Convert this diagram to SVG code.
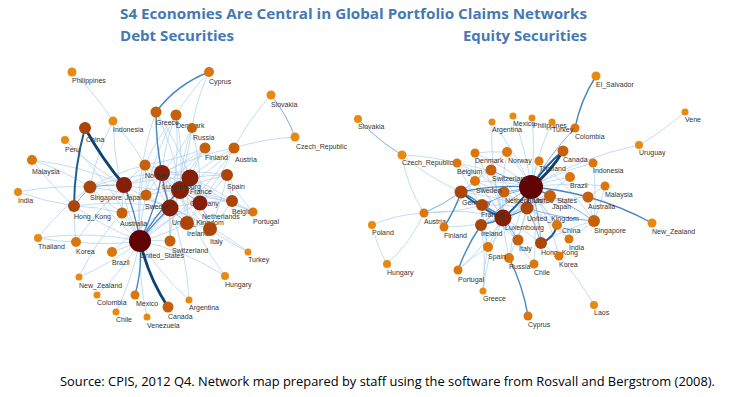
<svg xmlns="http://www.w3.org/2000/svg" width="738" height="397" viewBox="0 0 738 397">
<style>
.t{font-family:"Open Sans","Liberation Sans",sans-serif;font-weight:700;fill:#4479b4}
.src{font-family:"Open Sans","Liberation Sans",sans-serif;font-size:12px;fill:#000}
.l{font-family:"Liberation Sans",Arial,sans-serif;font-size:7px;fill:#333}
#edges path{fill:none}
.e1{stroke:#a9cdef;stroke-width:.7}
.e2{stroke:#7cb0e0;stroke-width:1}
.e3{stroke:#4a86c2;stroke-width:1.4}
.e4{stroke:#1f5d96;stroke-width:2}
.e5{stroke:#0d4273;stroke-width:2.8}
.c1{fill:#e98a10}.c2{fill:#dc760b}.c3{fill:#c6600a}.c4{fill:#ac4608}.c5{fill:#84200a}.c6{fill:#610303}
</style>
<rect width="738" height="397" fill="#fff"/>
<text class="t" x="120" y="19" font-size="14.5" textLength="467" lengthAdjust="spacingAndGlyphs">S4 Economies Are Central in Global Portfolio Claims Networks</text>
<text class="t" x="120" y="41" font-size="14.5" textLength="114" lengthAdjust="spacingAndGlyphs">Debt Securities</text>
<text class="t" x="463" y="41" font-size="14.5" textLength="124" lengthAdjust="spacingAndGlyphs">Equity Securities</text>
<g id="edges">
<g class="e1">
<path d="M72 72A250 250 0 0 1 113 121"/><path d="M113 121A250 250 0 0 1 145 165"/><path d="M113 121A300 300 0 0 0 140 241"/><path d="M113 121A250 250 0 0 0 90 187"/><path d="M65 140A300 300 0 0 1 140 241"/><path d="M65 140A250 250 0 0 0 124 185"/><path d="M32 160A250 250 0 0 1 90 187"/><path d="M32 160A300 300 0 0 0 74 206"/><path d="M32 160A300 300 0 0 1 124 185"/><path d="M18 192A300 300 0 0 1 90 187"/><path d="M18 192A300 300 0 0 0 74 206"/><path d="M38 238A250 250 0 0 1 90 187"/><path d="M38 238A250 250 0 0 0 76 242"/><path d="M38 238A300 300 0 0 1 140 241"/><path d="M76 242A250 250 0 0 0 140 241"/><path d="M76 242A250 250 0 0 1 74 206"/><path d="M76 242A300 300 0 0 1 124 185"/><path d="M112 252A250 250 0 0 0 140 241"/><path d="M112 252A300 300 0 0 1 170 208"/><path d="M79 277A250 250 0 0 0 140 241"/><path d="M79 277A250 250 0 0 1 122 213"/><path d="M97 295A250 250 0 0 0 140 241"/><path d="M116 312A300 300 0 0 0 140 241"/><path d="M147 317A300 300 0 0 1 140 241"/><path d="M189 300A250 250 0 0 1 140 241"/><path d="M189 300A300 300 0 0 0 170 208"/><path d="M225 276A300 300 0 0 1 180 190"/><path d="M225 276A250 250 0 0 0 140 241"/><path d="M248 252A250 250 0 0 1 210 229"/><path d="M248 252A300 300 0 0 0 170 208"/><path d="M253 212A200 200 0 0 1 227 175"/><path d="M253 212A200 200 0 0 0 232 201"/><path d="M253 212A250 250 0 0 1 190 178"/><path d="M253 212A300 300 0 0 0 180 190"/><path d="M295 137A250 250 0 0 0 234 148"/><path d="M271 95A250 250 0 0 0 234 148"/><path d="M234 148A250 250 0 0 1 180 190"/><path d="M234 148A250 250 0 0 0 190 178"/><path d="M234 148A250 250 0 0 0 162 173"/><path d="M234 148A250 250 0 0 1 200 203"/><path d="M234 148A300 300 0 0 1 140 241"/><path d="M205 148A200 200 0 0 1 146 195"/><path d="M205 148A200 200 0 0 0 180 190"/><path d="M205 148A200 200 0 0 1 162 173"/><path d="M205 148A200 200 0 0 0 190 178"/><path d="M205 148A250 250 0 0 1 145 165"/><path d="M192 128A200 200 0 0 1 162 173"/><path d="M192 128A200 200 0 0 0 180 190"/><path d="M192 128A250 250 0 0 1 200 203"/><path d="M192 128A300 300 0 0 1 170 208"/><path d="M176 115A200 200 0 0 0 162 173"/><path d="M176 115A250 250 0 0 0 146 195"/><path d="M176 115A200 200 0 0 0 145 165"/><path d="M176 115A250 250 0 0 1 180 190"/><path d="M176 115A300 300 0 0 1 170 208"/><path d="M176 115A250 250 0 0 1 209 72"/><path d="M209 72A200 200 0 0 0 192 128"/><path d="M156 112A250 250 0 0 1 190 178"/><path d="M156 112A250 250 0 0 1 180 190"/><path d="M156 112A300 300 0 0 0 170 208"/><path d="M156 112A300 300 0 0 0 140 241"/><path d="M145 165A200 200 0 0 1 146 195"/><path d="M145 165A250 250 0 0 0 180 190"/><path d="M145 165A250 250 0 0 1 190 178"/><path d="M145 165A250 250 0 0 0 170 208"/><path d="M145 165A300 300 0 0 0 140 241"/><path d="M145 165A200 200 0 0 0 124 185"/><path d="M145 165A250 250 0 0 0 90 187"/><path d="M90 187A250 250 0 0 0 140 241"/><path d="M90 187A300 300 0 0 1 170 208"/><path d="M90 187A300 300 0 0 1 162 173"/><path d="M90 187A200 200 0 0 0 122 213"/><path d="M74 206A300 300 0 0 0 140 241"/><path d="M74 206A300 300 0 0 1 170 208"/><path d="M74 206A200 200 0 0 1 122 213"/><path d="M122 213A200 200 0 0 0 140 241"/><path d="M122 213A250 250 0 0 1 170 208"/><path d="M122 213A200 200 0 0 1 124 185"/><path d="M124 185A250 250 0 0 1 162 173"/><path d="M124 185A250 250 0 0 0 180 190"/><path d="M124 185A250 250 0 0 0 170 208"/><path d="M124 185A300 300 0 0 1 190 178"/><path d="M146 195A200 200 0 0 1 180 190"/><path d="M146 195A200 200 0 0 0 170 208"/><path d="M146 195A200 200 0 0 0 140 241"/><path d="M146 195A200 200 0 0 1 162 173"/><path d="M162 173A150 150 0 0 1 190 178"/><path d="M162 173A200 200 0 0 0 200 203"/><path d="M162 173A250 250 0 0 1 227 175"/><path d="M162 173A250 250 0 0 0 210 229"/><path d="M162 173A250 250 0 0 0 187 223"/><path d="M162 173A250 250 0 0 0 232 201"/><path d="M190 178A200 200 0 0 0 200 203"/><path d="M190 178A200 200 0 0 1 227 175"/><path d="M190 178A250 250 0 0 1 210 229"/><path d="M190 178A200 200 0 0 1 232 201"/><path d="M190 178A250 250 0 0 0 187 223"/><path d="M180 190A200 200 0 0 1 227 175"/><path d="M180 190A200 200 0 0 1 210 229"/><path d="M180 190A200 200 0 0 1 187 223"/><path d="M180 190A200 200 0 0 0 232 201"/><path d="M200 203A200 200 0 0 1 232 201"/><path d="M200 203A200 200 0 0 0 227 175"/><path d="M200 203A200 200 0 0 1 210 229"/><path d="M200 203A200 200 0 0 0 170 208"/><path d="M200 203A200 200 0 0 1 187 223"/><path d="M170 208A200 200 0 0 1 210 229"/><path d="M170 208A200 200 0 0 0 170 241"/><path d="M140 241A200 200 0 0 1 170 241"/><path d="M140 241A200 200 0 0 0 187 223"/><path d="M140 241A250 250 0 0 0 190 178"/><path d="M140 241A250 250 0 0 1 200 203"/><path d="M170 241A200 200 0 0 1 180 190"/><path d="M170 241A200 200 0 0 0 162 173"/><path d="M227 175A200 200 0 0 1 232 201"/><path d="M227 175A250 250 0 0 1 210 229"/><path d="M187 223A150 150 0 0 1 210 229"/><path d="M232 201A200 200 0 0 1 210 229"/>
<path d="M402 155A250 250 0 0 1 457 163"/><path d="M402 155A150 150 0 0 0 424 213"/><path d="M402 155A250 250 0 0 0 461 192"/><path d="M424 213A150 150 0 0 0 372 225"/><path d="M424 213A150 150 0 0 1 387 264"/><path d="M372 225A150 150 0 0 0 387 264"/><path d="M424 213A200 200 0 0 1 503 218"/><path d="M424 213A200 200 0 0 0 482 205"/><path d="M444 227A200 200 0 0 1 475 181"/><path d="M444 227A200 200 0 0 0 503 218"/><path d="M458 270A200 200 0 0 1 488 247"/><path d="M458 270A250 250 0 0 0 503 218"/><path d="M483 291A200 200 0 0 1 488 247"/><path d="M483 291A250 250 0 0 1 503 218"/><path d="M483 291A250 250 0 0 0 481 225"/><path d="M488 247A200 200 0 0 1 503 218"/><path d="M488 247A200 200 0 0 0 481 225"/><path d="M488 247A250 250 0 0 1 482 205"/><path d="M488 247A300 300 0 0 0 531 187"/><path d="M518 240A200 200 0 0 1 482 205"/><path d="M518 240A250 250 0 0 0 531 187"/><path d="M509 258A250 250 0 0 1 503 218"/><path d="M509 258A250 250 0 0 0 527 208"/><path d="M509 258A250 250 0 0 1 531 187"/><path d="M534 264A250 250 0 0 1 503 218"/><path d="M534 264A300 300 0 0 0 531 187"/><path d="M559 256A250 250 0 0 0 531 187"/><path d="M559 256A200 200 0 0 1 541 243"/><path d="M594 305A300 300 0 0 0 559 256"/><path d="M569 239A250 250 0 0 0 594 221"/><path d="M569 239A250 250 0 0 1 531 187"/><path d="M569 239A250 250 0 0 0 527 208"/><path d="M557 225A250 250 0 0 1 531 187"/><path d="M557 225A200 200 0 0 0 527 208"/><path d="M550 196A200 200 0 0 1 527 208"/><path d="M550 196A250 250 0 0 0 503 218"/><path d="M605 186A200 200 0 0 1 594 221"/><path d="M605 186A300 300 0 0 0 531 187"/><path d="M605 186A200 200 0 0 0 588 197"/><path d="M593 163A250 250 0 0 1 594 221"/><path d="M593 163A300 300 0 0 0 531 187"/><path d="M570 177A250 250 0 0 0 531 187"/><path d="M570 177A300 300 0 0 1 503 218"/><path d="M539 161A200 200 0 0 0 531 187"/><path d="M539 161A300 300 0 0 1 594 221"/><path d="M552 122A300 300 0 0 0 531 187"/><path d="M532 118A300 300 0 0 1 531 187"/><path d="M513 116A300 300 0 0 1 531 187"/><path d="M492 122A300 300 0 0 1 531 187"/><path d="M492 122A300 300 0 0 0 503 218"/><path d="M639 145A350 350 0 0 0 531 187"/><path d="M639 145A300 300 0 0 0 685 112"/><path d="M507 152A250 250 0 0 1 531 187"/><path d="M507 152A200 200 0 0 0 475 181"/><path d="M507 152A250 250 0 0 0 503 218"/><path d="M507 152A200 200 0 0 0 475 153"/><path d="M475 153A250 250 0 0 1 531 187"/><path d="M475 153A200 200 0 0 1 475 181"/><path d="M475 153A250 250 0 0 1 503 218"/><path d="M457 163A200 200 0 0 0 482 205"/><path d="M457 163A250 250 0 0 1 503 218"/><path d="M457 163A200 200 0 0 1 504 192"/><path d="M457 163A300 300 0 0 1 531 187"/><path d="M491 170A200 200 0 0 1 503 218"/><path d="M491 170A200 200 0 0 0 461 192"/><path d="M491 170A250 250 0 0 1 527 208"/><path d="M475 181A250 250 0 0 1 531 187"/><path d="M475 181A250 250 0 0 1 503 218"/><path d="M475 181A200 200 0 0 0 461 192"/><path d="M475 181A250 250 0 0 1 527 208"/><path d="M504 192A200 200 0 0 1 503 218"/><path d="M504 192A200 200 0 0 0 461 192"/><path d="M504 192A200 200 0 0 1 527 208"/><path d="M461 192A250 250 0 0 1 527 208"/><path d="M481 225A200 200 0 0 1 527 208"/><path d="M482 205A200 200 0 0 1 527 208"/><path d="M563 151A250 250 0 0 0 527 208"/><path d="M563 151A250 250 0 0 1 503 218"/><path d="M594 221A200 200 0 0 0 541 243"/><path d="M594 221A150 150 0 0 1 588 197"/><path d="M588 197A250 250 0 0 0 527 208"/><path d="M541 243A250 250 0 0 0 503 218"/>
</g>
<g class="e2">
<path d="M124 185A200 200 0 0 0 90 187"/><path d="M90 187A200 200 0 0 0 74 206"/><path d="M271 95A150 150 0 0 1 295 137"/><path d="M180 190A150 150 0 0 1 200 203"/><path d="M170 208A150 150 0 0 0 187 223"/>
<path d="M358 119A200 200 0 0 0 402 155"/><path d="M575 128A300 300 0 0 0 531 187"/><path d="M518 240A200 200 0 0 0 503 218"/><path d="M594 221A300 300 0 0 0 531 187"/><path d="M594 221A300 300 0 0 1 527 208"/><path d="M491 170A200 200 0 0 0 531 187"/><path d="M504 192A200 200 0 0 0 531 187"/><path d="M481 225A250 250 0 0 1 531 187"/><path d="M482 205A250 250 0 0 1 531 187"/><path d="M527 208A200 200 0 0 1 541 243"/><path d="M541 243A250 250 0 0 0 531 187"/><path d="M424 213A200 200 0 0 0 461 192"/>
</g>
<g class="e3">
<path d="M209 72A120 120 0 0 0 156 112"/><path d="M156 112A300 300 0 0 0 162 173"/><path d="M140 241A150 150 0 0 1 135 295"/><path d="M140 241A250 250 0 0 1 170 208"/><path d="M140 241A250 250 0 0 0 162 173"/><path d="M140 241A250 250 0 0 1 180 190"/><path d="M124 185A250 250 0 0 1 140 241"/><path d="M180 190A150 150 0 0 1 190 178"/><path d="M170 208A150 150 0 0 1 162 173"/>
<path d="M444 227A150 150 0 0 0 461 192"/><path d="M596 76A150 150 0 0 0 575 128"/><path d="M509 258A200 200 0 0 1 528 316"/><path d="M458 270A200 200 0 0 1 481 225"/><path d="M588 197A300 300 0 0 1 652 223"/><path d="M531 187A300 300 0 0 1 588 197"/><path d="M531 187A100 100 0 0 1 550 196"/><path d="M531 187A250 250 0 0 0 461 192"/><path d="M503 218A100 100 0 0 0 482 205"/><path d="M503 218A100 100 0 0 1 481 225"/><path d="M482 205A100 100 0 0 0 461 192"/><path d="M527 208A100 100 0 0 1 503 218"/>
</g>
<g class="e4">
<path d="M85 128A300 300 0 0 0 74 206"/>
<path d="M531 187A100 100 0 0 0 527 208"/><path d="M531 187A150 150 0 0 1 503 218"/><path d="M461 192A150 150 0 0 0 503 218"/><path d="M541 243A25 25 0 0 0 557 225"/><path d="M534 183A150 150 0 0 1 563 151"/>
</g>
<g class="e5">
<path d="M85 128A350 350 0 0 0 124 185"/><path d="M140 241A200 200 0 0 0 168 307"/>
<path d="M531 187A120 120 0 0 0 563 151"/>
</g>
</g>
<g id="n-usa"><circle class="c6" cx="140" cy="241" r="11"/><text class="l" x="140" y="258">United_States</text></g>
<g id="n-deu"><circle class="c5" cx="180" cy="190" r="9"/><text class="l" x="190" y="206">Germany</text></g>
<g id="n-fra"><circle class="c5" cx="190" cy="178" r="8.5"/><text class="l" x="190" y="194">France</text></g>
<g id="n-lux"><circle class="c5" cx="162" cy="173" r="8"/><text class="l" x="162" y="189">Luxembourg</text></g>
<g id="n-gbr"><circle class="c5" cx="170" cy="208" r="8.5"/><text class="l" x="172" y="225">United_Kingdom</text></g>
<g id="n-jpn"><circle class="c5" cx="124" cy="185" r="8"/><text class="l" x="125" y="200">Japan</text></g>
<g id="n-nld"><circle class="c5" cx="200" cy="203" r="7.5"/><text class="l" x="202" y="219">Netherlands</text></g>
<g id="n-irl"><circle class="c4" cx="187" cy="223" r="7"/><text class="l" x="187" y="236">Ireland</text></g>
<g id="n-ita"><circle class="c4" cx="210" cy="229" r="7"/><text class="l" x="210" y="244">Italy</text></g>
<g id="n-esp"><circle class="c4" cx="227" cy="175" r="6"/><text class="l" x="227" y="189">Spain</text></g>
<g id="n-bel"><circle class="c4" cx="232" cy="201" r="6"/><text class="l" x="232" y="214">Belgium</text></g>
<g id="n-sgp"><circle class="c4" cx="90" cy="187" r="6.5"/><text class="l" x="90" y="200">Singapore</text></g>
<g id="n-hkg"><circle class="c4" cx="74" cy="206" r="6"/><text class="l" x="74" y="219">Hong_Kong</text></g>
<g id="n-chn"><circle class="c4" cx="85" cy="128" r="6"/><text class="l" x="86" y="142">China</text></g>
<g id="n-nor"><circle class="c3" cx="145" cy="165" r="5.5"/><text class="l" x="145" y="178">Norway</text></g>
<g id="n-swe"><circle class="c3" cx="146" cy="195" r="5.5"/><text class="l" x="145" y="209">Sweden</text></g>
<g id="n-aus"><circle class="c3" cx="122" cy="213" r="5.5"/><text class="l" x="120" y="226">Australia</text></g>
<g id="n-che"><circle class="c3" cx="170" cy="241" r="5.5"/><text class="l" x="172" y="253">Switzerland</text></g>
<g id="n-grc"><circle class="c3" cx="156" cy="112" r="5.5"/><text class="l" x="156" y="125">Greece</text></g>
<g id="n-dnk"><circle class="c3" cx="176" cy="115" r="5.5"/><text class="l" x="176" y="128">Denmark</text></g>
<g id="n-rus"><circle class="c3" cx="192" cy="128" r="5"/><text class="l" x="193" y="140">Russia</text></g>
<g id="n-fin"><circle class="c3" cx="205" cy="148" r="5.5"/><text class="l" x="205" y="160">Finland</text></g>
<g id="n-aut"><circle class="c3" cx="234" cy="148" r="5.5"/><text class="l" x="235" y="162">Austria</text></g>
<g id="n-can"><circle class="c3" cx="168" cy="307" r="5.5"/><text class="l" x="168" y="319">Canada</text></g>
<g id="n-cyp"><circle class="c2" cx="209" cy="72" r="5"/><text class="l" x="209" y="84">Cyprus</text></g>
<g id="n-mys"><circle class="c2" cx="32" cy="160" r="5"/><text class="l" x="32" y="174">Malaysia</text></g>
<g id="n-kor"><circle class="c2" cx="76" cy="242" r="5"/><text class="l" x="76" y="254">Korea</text></g>
<g id="n-bra"><circle class="c2" cx="112" cy="252" r="5"/><text class="l" x="112" y="265">Brazil</text></g>
<g id="n-mex"><circle class="c2" cx="135" cy="295" r="4.5"/><text class="l" x="136" y="306">Mexico</text></g>
<g id="n-prt"><circle class="c2" cx="253" cy="212" r="4.5"/><text class="l" x="253" y="224">Portugal</text></g>
<g id="n-phl"><circle class="c1" cx="72" cy="72" r="4.5"/><text class="l" x="72" y="83">Philippines</text></g>
<g id="n-idn"><circle class="c1" cx="113" cy="121" r="4.5"/><text class="l" x="113" y="132">Indonesia</text></g>
<g id="n-per"><circle class="c1" cx="65" cy="140" r="4"/><text class="l" x="65" y="152">Peru</text></g>
<g id="n-svk"><circle class="c1" cx="271" cy="95" r="4.5"/><text class="l" x="271" y="107">Slovakia</text></g>
<g id="n-cze"><circle class="c1" cx="295" cy="137" r="4.5"/><text class="l" x="296" y="149">Czech_Republic</text></g>
<g id="n-ind"><circle class="c1" cx="18" cy="192" r="4"/><text class="l" x="18" y="203">India</text></g>
<g id="n-tha"><circle class="c1" cx="38" cy="238" r="4"/><text class="l" x="38" y="249">Thailand</text></g>
<g id="n-tur"><circle class="c1" cx="248" cy="252" r="3.5"/><text class="l" x="248" y="262">Turkey</text></g>
<g id="n-hun"><circle class="c1" cx="225" cy="276" r="4"/><text class="l" x="225" y="287">Hungary</text></g>
<g id="n-nzl"><circle class="c1" cx="79" cy="277" r="3.5"/><text class="l" x="79" y="288">New_Zealand</text></g>
<g id="n-col"><circle class="c1" cx="97" cy="295" r="3.5"/><text class="l" x="97" y="305">Colombia</text></g>
<g id="n-arg"><circle class="c1" cx="189" cy="300" r="3.5"/><text class="l" x="189" y="310">Argentina</text></g>
<g id="n-chl"><circle class="c1" cx="116" cy="312" r="3.5"/><text class="l" x="116" y="322">Chile</text></g>
<g id="n-ven"><circle class="c1" cx="147" cy="317" r="3.5"/><text class="l" x="147" y="328">Venezuela</text></g>

<g id="e-usa"><circle class="c6" cx="531" cy="187" r="12"/><text class="l" x="533" y="203">United_States</text></g>
<g id="e-lux"><circle class="c5" cx="503" cy="218" r="8.5"/><text class="l" x="505" y="230">Luxembourg</text></g>
<g id="e-gbr"><circle class="c4" cx="527" cy="208" r="6.5"/><text class="l" x="527" y="221">United_Kingdom</text></g>
<g id="e-deu"><circle class="c4" cx="461" cy="192" r="6.5"/><text class="l" x="462" y="205">Germany</text></g>
<g id="e-fra"><circle class="c4" cx="482" cy="205" r="6"/><text class="l" x="481" y="217">France</text></g>
<g id="e-irl"><circle class="c4" cx="481" cy="225" r="6"/><text class="l" x="481" y="236">Ireland</text></g>
<g id="e-hkg"><circle class="c4" cx="541" cy="243" r="6"/><text class="l" x="541" y="255">Hong_Kong</text></g>
<g id="e-nld"><circle class="c3" cx="504" cy="192" r="5.5"/><text class="l" x="505" y="203">Netherlands</text></g>
<g id="e-jpn"><circle class="c3" cx="550" cy="196" r="6"/><text class="l" x="552" y="209">Japan</text></g>
<g id="e-che"><circle class="c3" cx="491" cy="170" r="5.5"/><text class="l" x="492" y="181">Switzerland</text></g>
<g id="e-ita"><circle class="c3" cx="518" cy="240" r="5.5"/><text class="l" x="519" y="251">Italy</text></g>
<g id="e-can"><circle class="c3" cx="563" cy="151" r="5.5"/><text class="l" x="563" y="162">Canada</text></g>
<g id="e-aus"><circle class="c3" cx="588" cy="197" r="5.5"/><text class="l" x="588" y="209">Australia</text></g>
<g id="e-sgp"><circle class="c3" cx="594" cy="221" r="6"/><text class="l" x="594" y="233">Singapore</text></g>
<g id="e-swe"><circle class="c2" cx="475" cy="181" r="5"/><text class="l" x="476" y="193">Sweden</text></g>
<g id="e-nor"><circle class="c2" cx="507" cy="152" r="5"/><text class="l" x="508" y="163">Norway</text></g>
<g id="e-dnk"><circle class="c2" cx="475" cy="153" r="4.5"/><text class="l" x="475" y="163">Denmark</text></g>
<g id="e-bel"><circle class="c2" cx="457" cy="163" r="4.5"/><text class="l" x="457" y="174">Belgium</text></g>
<g id="e-chn"><circle class="c2" cx="557" cy="225" r="5"/><text class="l" x="562" y="233">China</text></g>
<g id="e-ind"><circle class="c2" cx="569" cy="239" r="4.5"/><text class="l" x="569" y="250">India</text></g>
<g id="e-kor"><circle class="c2" cx="559" cy="256" r="4.5"/><text class="l" x="559" y="267">Korea</text></g>
<g id="e-chl"><circle class="c2" cx="534" cy="264" r="4.5"/><text class="l" x="534" y="275">Chile</text></g>
<g id="e-rus"><circle class="c2" cx="509" cy="258" r="5"/><text class="l" x="509" y="269">Russia</text></g>
<g id="e-esp"><circle class="c2" cx="488" cy="247" r="5"/><text class="l" x="488" y="259">Spain</text></g>
<g id="e-prt"><circle class="c2" cx="458" cy="270" r="4.5"/><text class="l" x="458" y="282">Portugal</text></g>
<g id="e-cyp"><circle class="c2" cx="528" cy="316" r="4.5"/><text class="l" x="528" y="327">Cyprus</text></g>
<g id="e-aut"><circle class="c2" cx="424" cy="213" r="4.5"/><text class="l" x="424" y="224">Austria</text></g>
<g id="e-fin"><circle class="c2" cx="444" cy="227" r="4.5"/><text class="l" x="444" y="238">Finland</text></g>
<g id="e-bra"><circle class="c2" cx="570" cy="177" r="5"/><text class="l" x="570" y="188">Brazil</text></g>
<g id="e-idn"><circle class="c2" cx="593" cy="163" r="4.5"/><text class="l" x="593" y="173">Indonesia</text></g>
<g id="e-mys"><circle class="c2" cx="605" cy="186" r="4.5"/><text class="l" x="605" y="197">Malaysia</text></g>
<g id="e-tha"><circle class="c2" cx="539" cy="161" r="4.5"/><text class="l" x="539" y="171">Thailand</text></g>
<g id="e-col"><circle class="c2" cx="575" cy="128" r="4.5"/><text class="l" x="575" y="139">Colombia</text></g>
<g id="e-cze"><circle class="c1" cx="402" cy="155" r="4.5"/><text class="l" x="402" y="165">Czech_Republic</text></g>
<g id="e-svk"><circle class="c1" cx="358" cy="119" r="4"/><text class="l" x="358" y="129">Slovakia</text></g>
<g id="e-arg"><circle class="c1" cx="492" cy="122" r="3.5"/><text class="l" x="492" y="132">Argentina</text></g>
<g id="e-mex"><circle class="c1" cx="513" cy="116" r="3.5"/><text class="l" x="513" y="126">Mexico</text></g>
<g id="e-phl"><circle class="c1" cx="532" cy="118" r="3.5"/><text class="l" x="533" y="128">Philippines</text></g>
<g id="e-tur"><circle class="c1" cx="552" cy="122" r="3.5"/><text class="l" x="552" y="132">Turkey</text></g>
<g id="e-slv"><circle class="c1" cx="596" cy="76" r="4.5"/><text class="l" x="596" y="87">El_Salvador</text></g>
<g id="e-ven"><circle class="c1" cx="685" cy="112" r="3.5"/><text class="l" x="685" y="122">Vene</text></g>
<g id="e-ury"><circle class="c1" cx="639" cy="145" r="4"/><text class="l" x="639" y="155">Uruguay</text></g>
<g id="e-nzl"><circle class="c1" cx="652" cy="223" r="4.5"/><text class="l" x="652" y="234">New_Zealand</text></g>
<g id="e-lao"><circle class="c1" cx="594" cy="305" r="4"/><text class="l" x="594" y="315">Laos</text></g>
<g id="e-grc"><circle class="c1" cx="483" cy="291" r="3.5"/><text class="l" x="483" y="301">Greece</text></g>
<g id="e-pol"><circle class="c1" cx="372" cy="225" r="4"/><text class="l" x="372" y="235">Poland</text></g>
<g id="e-hun"><circle class="c1" cx="387" cy="264" r="4"/><text class="l" x="387" y="275">Hungary</text></g>
<text class="src" x="60" y="386" textLength="655" lengthAdjust="spacingAndGlyphs">Source: CPIS, 2012 Q4. Network map prepared by staff using the software from Rosvall and Bergstrom (2008).</text>
</svg>
